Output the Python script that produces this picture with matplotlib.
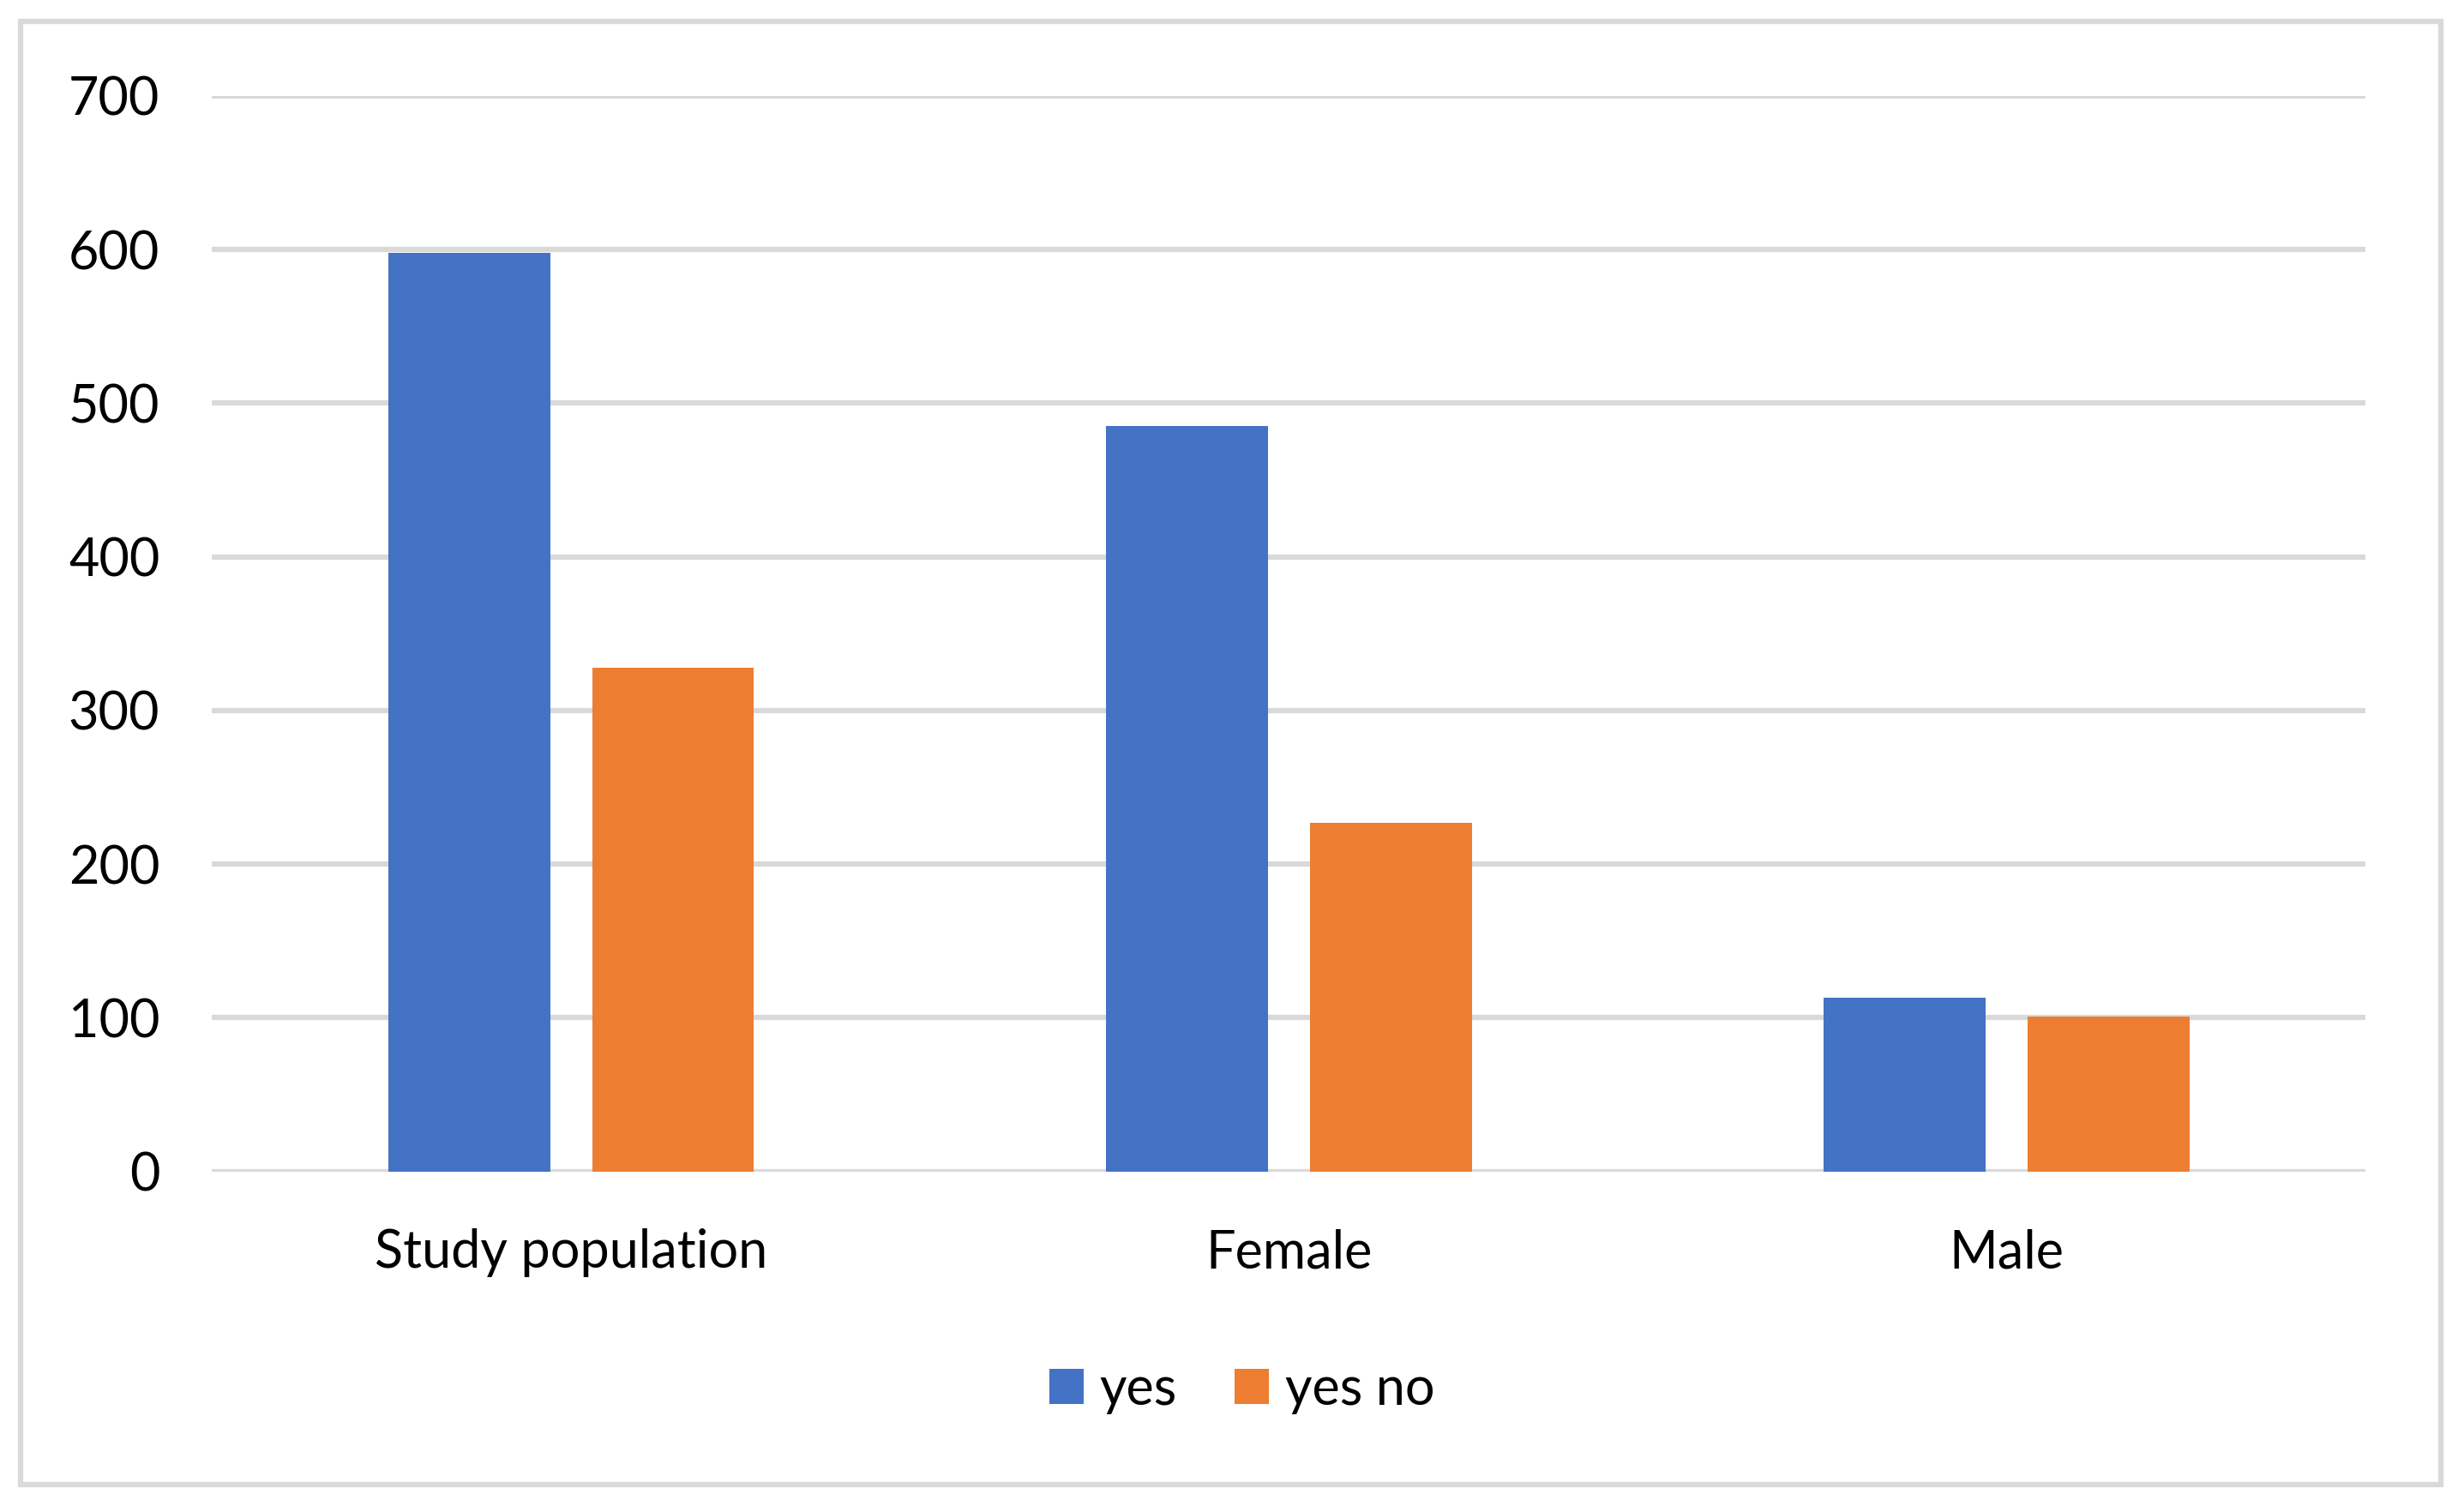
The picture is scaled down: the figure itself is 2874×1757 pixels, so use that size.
import numpy as np
import matplotlib.pyplot as plt
from matplotlib.patches import Rectangle

# Data
categories = ['Study population', 'Female', 'Male']
yes_values = [598, 485, 113]
yes_no_values = [328, 227, 101]
series_labels = ['yes', 'yes no']
y_ticks = [0, 100, 200, 300, 400, 500, 600, 700]

blue = '#4472C4'
orange = '#ED7D31'
grid_gray = '#D9D9D9'

plt.rcParams['font.family'] = ['Lato', 'DejaVu Sans']

fig = plt.figure(figsize=(28.74, 17.57), dpi=100)
ax = fig.add_axes([0.0861, 0.2221, 0.9600 - 0.0861, 0.9364 - 0.2221])

x = np.arange(len(categories))
width = 0.2255
offset = 0.142
ax.bar(x - offset, yes_values, width, color=blue, label=series_labels[0], zorder=3)
ax.bar(x + offset, yes_no_values, width, color=orange, label=series_labels[1], zorder=3)

ax.set_xlim(-0.5, len(categories) - 0.5)
ax.set_ylim(0, 700)
ax.set_yticks(y_ticks)
ax.set_xticks(x)
ax.set_xticklabels(categories)

ax.yaxis.grid(True, color=grid_gray, linewidth=4.5, zorder=0)
ax.set_axisbelow(True)
for s in ax.spines.values():
    s.set_visible(False)
ax.tick_params(axis='both', length=0, labelsize=44, colors='black')
ax.tick_params(axis='y', pad=44)
ax.tick_params(axis='x', pad=48)
for lbl in ax.get_yticklabels():
    lbl.set_clip_on(False)

leg = fig.legend(loc='center', bbox_to_anchor=(0.504, 0.077), ncol=2, frameon=False,
                 fontsize=44, handlelength=0.66, handleheight=0.66,
                 handletextpad=0.3, columnspacing=1.1)

# outer chart border
fig.patches.append(Rectangle((24 / 2874, 25 / 1757), (2847 - 24) / 2874, (1732 - 25) / 1757,
                             transform=fig.transFigure, fill=False,
                             edgecolor=grid_gray, linewidth=4.5))

fig.savefig('out.png', dpi=100, facecolor='white')
